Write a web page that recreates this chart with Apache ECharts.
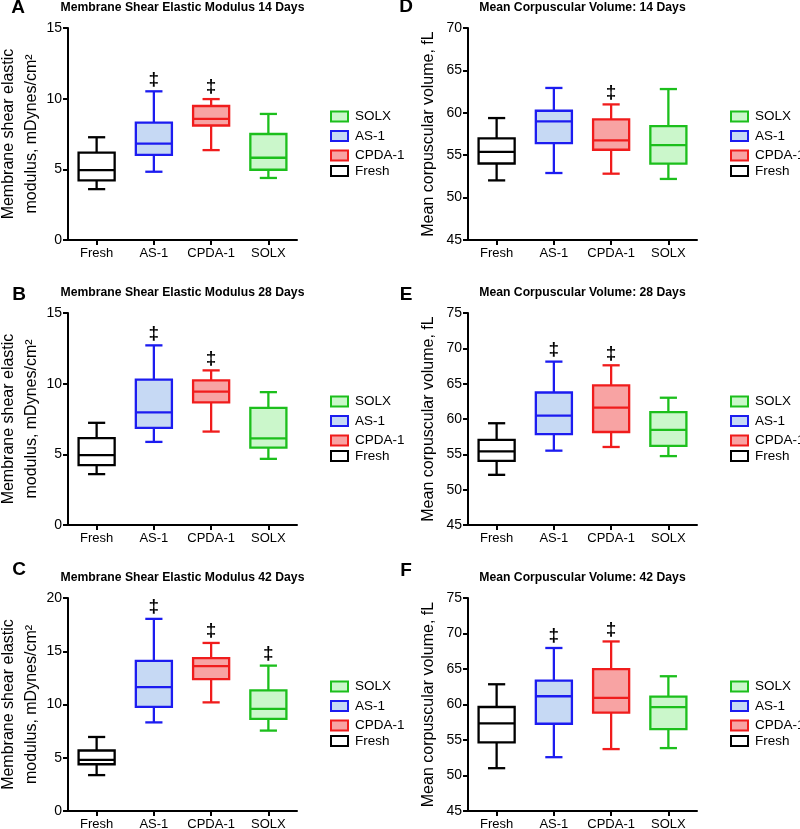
<!DOCTYPE html>
<html><head><meta charset="utf-8">
<script src="https://cdn.jsdelivr.net/npm/echarts@6/dist/echarts.min.js"></script>
<style>html,body{margin:0;padding:0;background:#fff}#c{width:800px;height:829px}</style>
</head><body><div id="c"></div>
<script>
const categories = ['Fresh', 'AS-1', 'CPDA-1', 'SOLX'];
const legendTop3 = ['SOLX', 'AS-1', 'CPDA-1'];
const legendLast = ['Fresh'];

// each row: [min, Q1, median, Q3, max] for Fresh, AS-1, CPDA-1, SOLX
const mse14 = [[3.6, 4.22, 4.95, 6.18, 7.27], [4.83, 6.02, 6.82, 8.3, 10.52], [6.36, 8.1, 8.57, 9.48, 9.97], [4.39, 4.97, 5.82, 7.5, 8.92]];
const mse14Sig = [0, 1, 1, 0];
const mse28 = [[3.6, 4.23, 4.95, 6.14, 7.23], [5.88, 6.87, 7.97, 10.28, 12.71], [6.61, 8.67, 9.43, 10.23, 10.94], [4.68, 5.48, 6.13, 8.29, 9.4]];
const mse28Sig = [0, 1, 1, 0];
const mse42 = [[3.37, 4.39, 4.8, 5.68, 6.95], [8.32, 9.77, 11.64, 14.1, 18.04], [10.2, 12.39, 13.6, 14.35, 15.78], [7.55, 8.65, 9.58, 11.32, 13.65]];
const mse42Sig = [0, 1, 1, 1];
const mcv14 = [[52.03, 54.02, 55.4, 56.98, 59.38], [52.9, 56.43, 59.0, 60.24, 62.93], [52.82, 55.64, 56.75, 59.22, 60.99], [52.2, 54.0, 56.18, 58.43, 62.8]];
const mcv14Sig = [0, 0, 1, 0];
const mcv28 = [[52.1, 54.08, 55.43, 57.05, 59.4], [55.52, 57.85, 60.47, 63.75, 68.12], [56.04, 58.16, 61.62, 64.76, 67.6], [54.75, 56.21, 58.45, 60.96, 63.01]];
const mcv28Sig = [0, 1, 1, 0];
const mcv42 = [[51.03, 54.66, 57.34, 59.65, 62.85], [52.58, 57.29, 61.16, 63.37, 67.96], [53.72, 58.85, 60.92, 64.97, 68.88], [53.86, 56.54, 59.62, 61.1, 63.98]];
const mcv42Sig = [0, 1, 1, 0];

const mseAxisName = 'Membrane shear elastic\nmodulus, mDynes/cm²';
const mcvAxisName = 'Mean corpuscular volume, fL';

const panels = [
  { letter: 'A', title: 'Membrane Shear Elastic Modulus 14 Days', data: mse14, sig: mse14Sig, min: 0, max: 15, name: mseAxisName, col: 0, row: 0 },
  { letter: 'B', title: 'Membrane Shear Elastic Modulus 28 Days', data: mse28, sig: mse28Sig, min: 0, max: 15, name: mseAxisName, col: 0, row: 1 },
  { letter: 'C', title: 'Membrane Shear Elastic Modulus 42 Days', data: mse42, sig: mse42Sig, min: 0, max: 20, name: mseAxisName, col: 0, row: 2 },
  { letter: 'D', title: 'Mean Corpuscular Volume: 14 Days', data: mcv14, sig: mcv14Sig, min: 45, max: 70, name: mcvAxisName, col: 1, row: 0 },
  { letter: 'E', title: 'Mean Corpuscular Volume: 28 Days', data: mcv28, sig: mcv28Sig, min: 45, max: 75, name: mcvAxisName, col: 1, row: 1 },
  { letter: 'F', title: 'Mean Corpuscular Volume: 42 Days', data: mcv42, sig: mcv42Sig, min: 45, max: 75, name: mcvAxisName, col: 1, row: 2 }
];

const styles = {
  'Fresh': { stroke: '#000000', fill: '#ffffff' },
  'AS-1': { stroke: '#1c1cf0', fill: '#c6d9f4' },
  'CPDA-1': { stroke: '#f01c1c', fill: '#f8a3a3' },
  'SOLX': { stroke: '#1cbf1c', fill: '#cbf7cb' }
};

const FONT = '"Liberation Sans", Arial, Helvetica, sans-serif';
const colLeft = [68, 468];
const gridW = 229;
const rowTop = [28, 313, 598];
const rowH = [212, 212, 213];
const titleY = [7.5, 293, 578];
const letterPos = [[[18, 8], [19, 295], [19, 570]], [[406, 7], [406, 295], [406, 571]]];

function makeRender(st) {
  return function (params, api) {
    const ci = api.value(0);
    const pMin = api.coord([ci, api.value(1)]);
    const pQ1 = api.coord([ci, api.value(2)]);
    const pMed = api.coord([ci, api.value(3)]);
    const pQ3 = api.coord([ci, api.value(4)]);
    const pMax = api.coord([ci, api.value(5)]);
    const sig = api.value(6);
    const band = api.size([1, 0])[0];
    const bw = band * 0.63, cw = band * 0.3;
    const x = pMed[0];
    const lw = 2.3;
    const ls = { stroke: st.stroke, lineWidth: lw, fill: null };
    const children = [
      { type: 'line', shape: { x1: x, y1: pQ3[1], x2: x, y2: pMax[1] }, style: ls },
      { type: 'line', shape: { x1: x - cw / 2, y1: pMax[1], x2: x + cw / 2, y2: pMax[1] }, style: ls },
      { type: 'line', shape: { x1: x, y1: pQ1[1], x2: x, y2: pMin[1] }, style: ls },
      { type: 'line', shape: { x1: x - cw / 2, y1: pMin[1], x2: x + cw / 2, y2: pMin[1] }, style: ls },
      { type: 'rect', shape: { x: x - bw / 2, y: pQ3[1], width: bw, height: pQ1[1] - pQ3[1] }, style: { fill: st.fill, stroke: st.stroke, lineWidth: lw } },
      { type: 'line', shape: { x1: x - bw / 2, y1: pMed[1], x2: x + bw / 2, y2: pMed[1] }, style: ls }
    ];
    if (sig) {
      children.push({ type: 'text', x: x, y: pMax[1] - 12, style: { text: '‡', fontSize: 19, fontWeight: 'bold', fontFamily: FONT, fill: '#000', textAlign: 'center', textVerticalAlign: 'middle' } });
    }
    return { type: 'group', children: children };
  };
}

const grid = [], xAxis = [], yAxis = [], series = [], legend = [], graphic = [];

panels.forEach((p, i) => {
  const left = colLeft[p.col], top = rowTop[p.row], h = rowH[p.row];
  grid.push({ left: left, top: top, width: gridW, height: h, outerBoundsMode: 'none', containLabel: false });
  xAxis.push({
    type: 'category', gridIndex: i, data: categories, boundaryGap: true,
    axisLine: { show: true, lineStyle: { color: '#000', width: 2 } },
    axisTick: { show: true, alignWithLabel: true, length: 5, lineStyle: { color: '#000', width: 2 } },
    axisLabel: { show: true, interval: 0, fontSize: 13, color: '#000', margin: 7, fontFamily: FONT },
    splitLine: { show: false }
  });
  const isMse = p.col === 0;
  yAxis.push({
    type: 'value', gridIndex: i, min: p.min, max: p.max, interval: 5,
    name: p.name, nameLocation: 'middle', nameGap: isMse ? 25 : 29, nameRotate: 90,
    nameTextStyle: { fontSize: 16, lineHeight: isMse ? 23 : 20, color: '#000', fontFamily: FONT },
    nameMoveOverlap: false,
    axisLine: { show: true, lineStyle: { color: '#000', width: 2 } },
    axisTick: { show: true, length: 5, lineStyle: { color: '#000', width: 2 } },
    axisLabel: { show: true, fontSize: 14, color: '#000', margin: 6, fontFamily: FONT },
    splitLine: { show: false }
  });
  categories.forEach((c, ci) => {
    const st = styles[c];
    series.push({
      type: 'custom', name: c, xAxisIndex: i, yAxisIndex: i,
      itemStyle: { color: st.fill, borderColor: st.stroke, borderWidth: 2 },
      renderItem: makeRender(st),
      data: [[ci].concat(p.data[ci], [p.sig[ci]])],
      encode: { x: 0, y: [1, 2, 3, 4, 5] },
      silent: true, clip: false
    });
  });
  const legendCommon = {
    orient: 'vertical', left: left + 262, padding: 0, icon: 'rect',
    itemWidth: 17, itemHeight: 10, selectedMode: false,
    textStyle: { fontSize: 13.5, lineHeight: 14, color: '#000', fontFamily: FONT, padding: [0, 0, 0, 2] }
  };
  legend.push(Object.assign({}, legendCommon, {
    top: top + 81.5, itemGap: 5.5,
    data: legendTop3.map(n => ({ name: n, itemStyle: { color: styles[n].fill, borderColor: styles[n].stroke, borderWidth: 2 } }))
  }));
  legend.push(Object.assign({}, legendCommon, {
    top: top + 136, itemGap: 5,
    data: legendLast.map(n => ({ name: n, itemStyle: { color: styles[n].fill, borderColor: styles[n].stroke, borderWidth: 2 } }))
  }));
  graphic.push({
    type: 'text', x: left + gridW / 2, y: titleY[p.row],
    style: { text: p.title, fontSize: 12.2, fontWeight: 'bold', fontFamily: FONT, fill: '#000', textAlign: 'center', textVerticalAlign: 'middle' }
  });
  const lp = letterPos[p.col][p.row];
  graphic.push({
    type: 'text', x: lp[0], y: lp[1],
    style: { text: p.letter, fontSize: 19, fontWeight: 'bold', fontFamily: FONT, fill: '#000', textAlign: 'center', textVerticalAlign: 'middle' }
  });
});

const chart = echarts.init(document.getElementById('c'), null, { renderer: 'canvas' });
chart.setOption({
  backgroundColor: '#ffffff',
  animation: false,
  textStyle: { fontFamily: FONT },
  tooltip: { show: false },
  grid: grid, xAxis: xAxis, yAxis: yAxis, series: series, legend: legend, graphic: graphic
});
</script>
</body></html>
